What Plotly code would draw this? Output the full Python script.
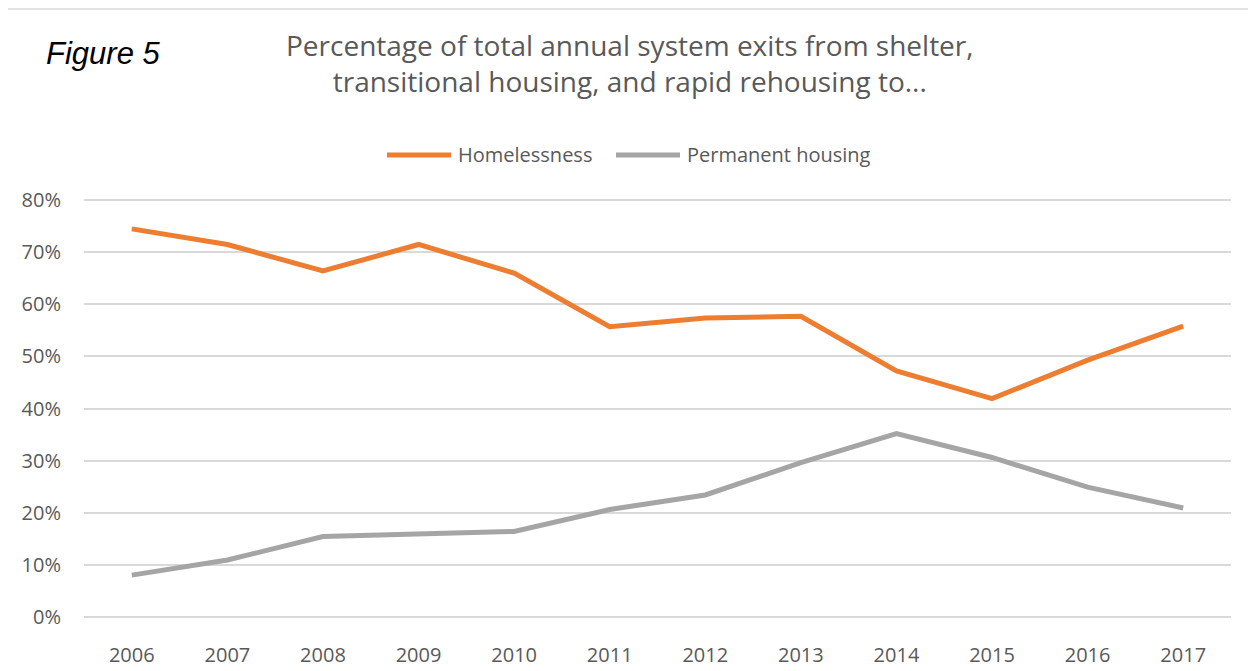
import plotly.graph_objects as go

# data
years = ["2006", "2007", "2008", "2009", "2010", "2011",
         "2012", "2013", "2014", "2015", "2016", "2017"]
homelessness = [0.745, 0.715, 0.664, 0.715, 0.660, 0.557,
                0.574, 0.577, 0.472, 0.419, 0.493, 0.558]
permanent_housing = [0.080, 0.109, 0.154, 0.158, 0.164, 0.206,
                     0.234, 0.296, 0.352, 0.306, 0.249, 0.209]

ORANGE = "#ED7D31"
GREY = "#A5A5A5"
TEXT = "#595959"
GRID = "#D9D9D9"
FONT = "'Open Sans', Lato, sans-serif"

# the page body has an 8px margin, so the figure is drawn at (8, 8)
OFF = 8
W, H = 1256 - OFF, 671 - OFF
# y range padded a little so the 0% and 80% gridlines get drawn
Y_RANGE = [-0.01, 0.81]
L, R, T, B = 76, 25, 187, 49
PW, PH = W - L - R, H - T - B


# helpers taking screenshot pixel coords -> paper coords
def px(x):
    return (x - OFF - L) / PW


def py(y):
    return (H - B - (y - OFF)) / PH


fig = go.Figure()
fig.add_trace(go.Scatter(x=years, y=homelessness, name="Homelessness",
                         mode="lines", line=dict(color=ORANGE, width=5)))
fig.add_trace(go.Scatter(x=years, y=permanent_housing, name="Permanent housing",
                         mode="lines", line=dict(color=GREY, width=5)))

shapes = [
    # outer frame (cut off at right and bottom like the reference)
    dict(type="rect", xref="paper", yref="paper",
         x0=px(7), x1=px(1290), y0=py(700), y1=py(9),
         line=dict(color=GRID, width=1.5), layer="below"),
    # legend line samples
    dict(type="line", xref="paper", yref="paper", x0=px(387), x1=px(451),
         y0=py(155), y1=py(155), line=dict(color=ORANGE, width=5)),
    dict(type="line", xref="paper", yref="paper", x0=px(616), x1=px(680),
         y0=py(155), y1=py(155), line=dict(color=GREY, width=5)),
]

annotations = [
    dict(text="<i>Figure 5</i>", xref="paper", yref="paper",
         x=px(44), y=py(53), xanchor="left", yanchor="middle", showarrow=False,
         font=dict(family="Liberation Sans, Arial", size=31, color="#000000")),
    dict(text="Percentage of total annual system exits from shelter,<br>"
              "transitional housing, and rapid rehousing to...",
         xref="paper", yref="paper", x=px(630), y=py(63),
         xanchor="center", yanchor="middle", showarrow=False,
         font=dict(family=FONT, size=28, color=TEXT)),
    dict(text="Homelessness", xref="paper", yref="paper",
         x=px(456), y=py(155), xanchor="left", yanchor="middle", showarrow=False,
         font=dict(family=FONT, size=20, color=TEXT)),
    dict(text="Permanent housing", xref="paper", yref="paper",
         x=px(685), y=py(155), xanchor="left", yanchor="middle", showarrow=False,
         font=dict(family=FONT, size=20, color=TEXT)),
]

fig.update_layout(
    width=W, height=H,
    margin=dict(l=L, r=R, t=T, b=B),
    paper_bgcolor="white", plot_bgcolor="white",
    showlegend=False,
    shapes=shapes, annotations=annotations,
    font=dict(family=FONT, size=20, color=TEXT),
)
fig.update_xaxes(type="category", range=[-0.5, 11.5], showgrid=False,
                 showline=False, zeroline=False, ticks="", automargin=False,
                 ticklabelstandoff=19, tickfont=dict(size=20, color=TEXT))
fig.update_yaxes(range=Y_RANGE, dtick=0.1, tickformat=".0%",
                 showgrid=True, gridcolor=GRID, gridwidth=1.5,
                 zeroline=False, showline=False, ticks="", automargin=False,
                 ticklabelstandoff=22, tickfont=dict(size=20, color=TEXT))

fig.write_html("out.html")
